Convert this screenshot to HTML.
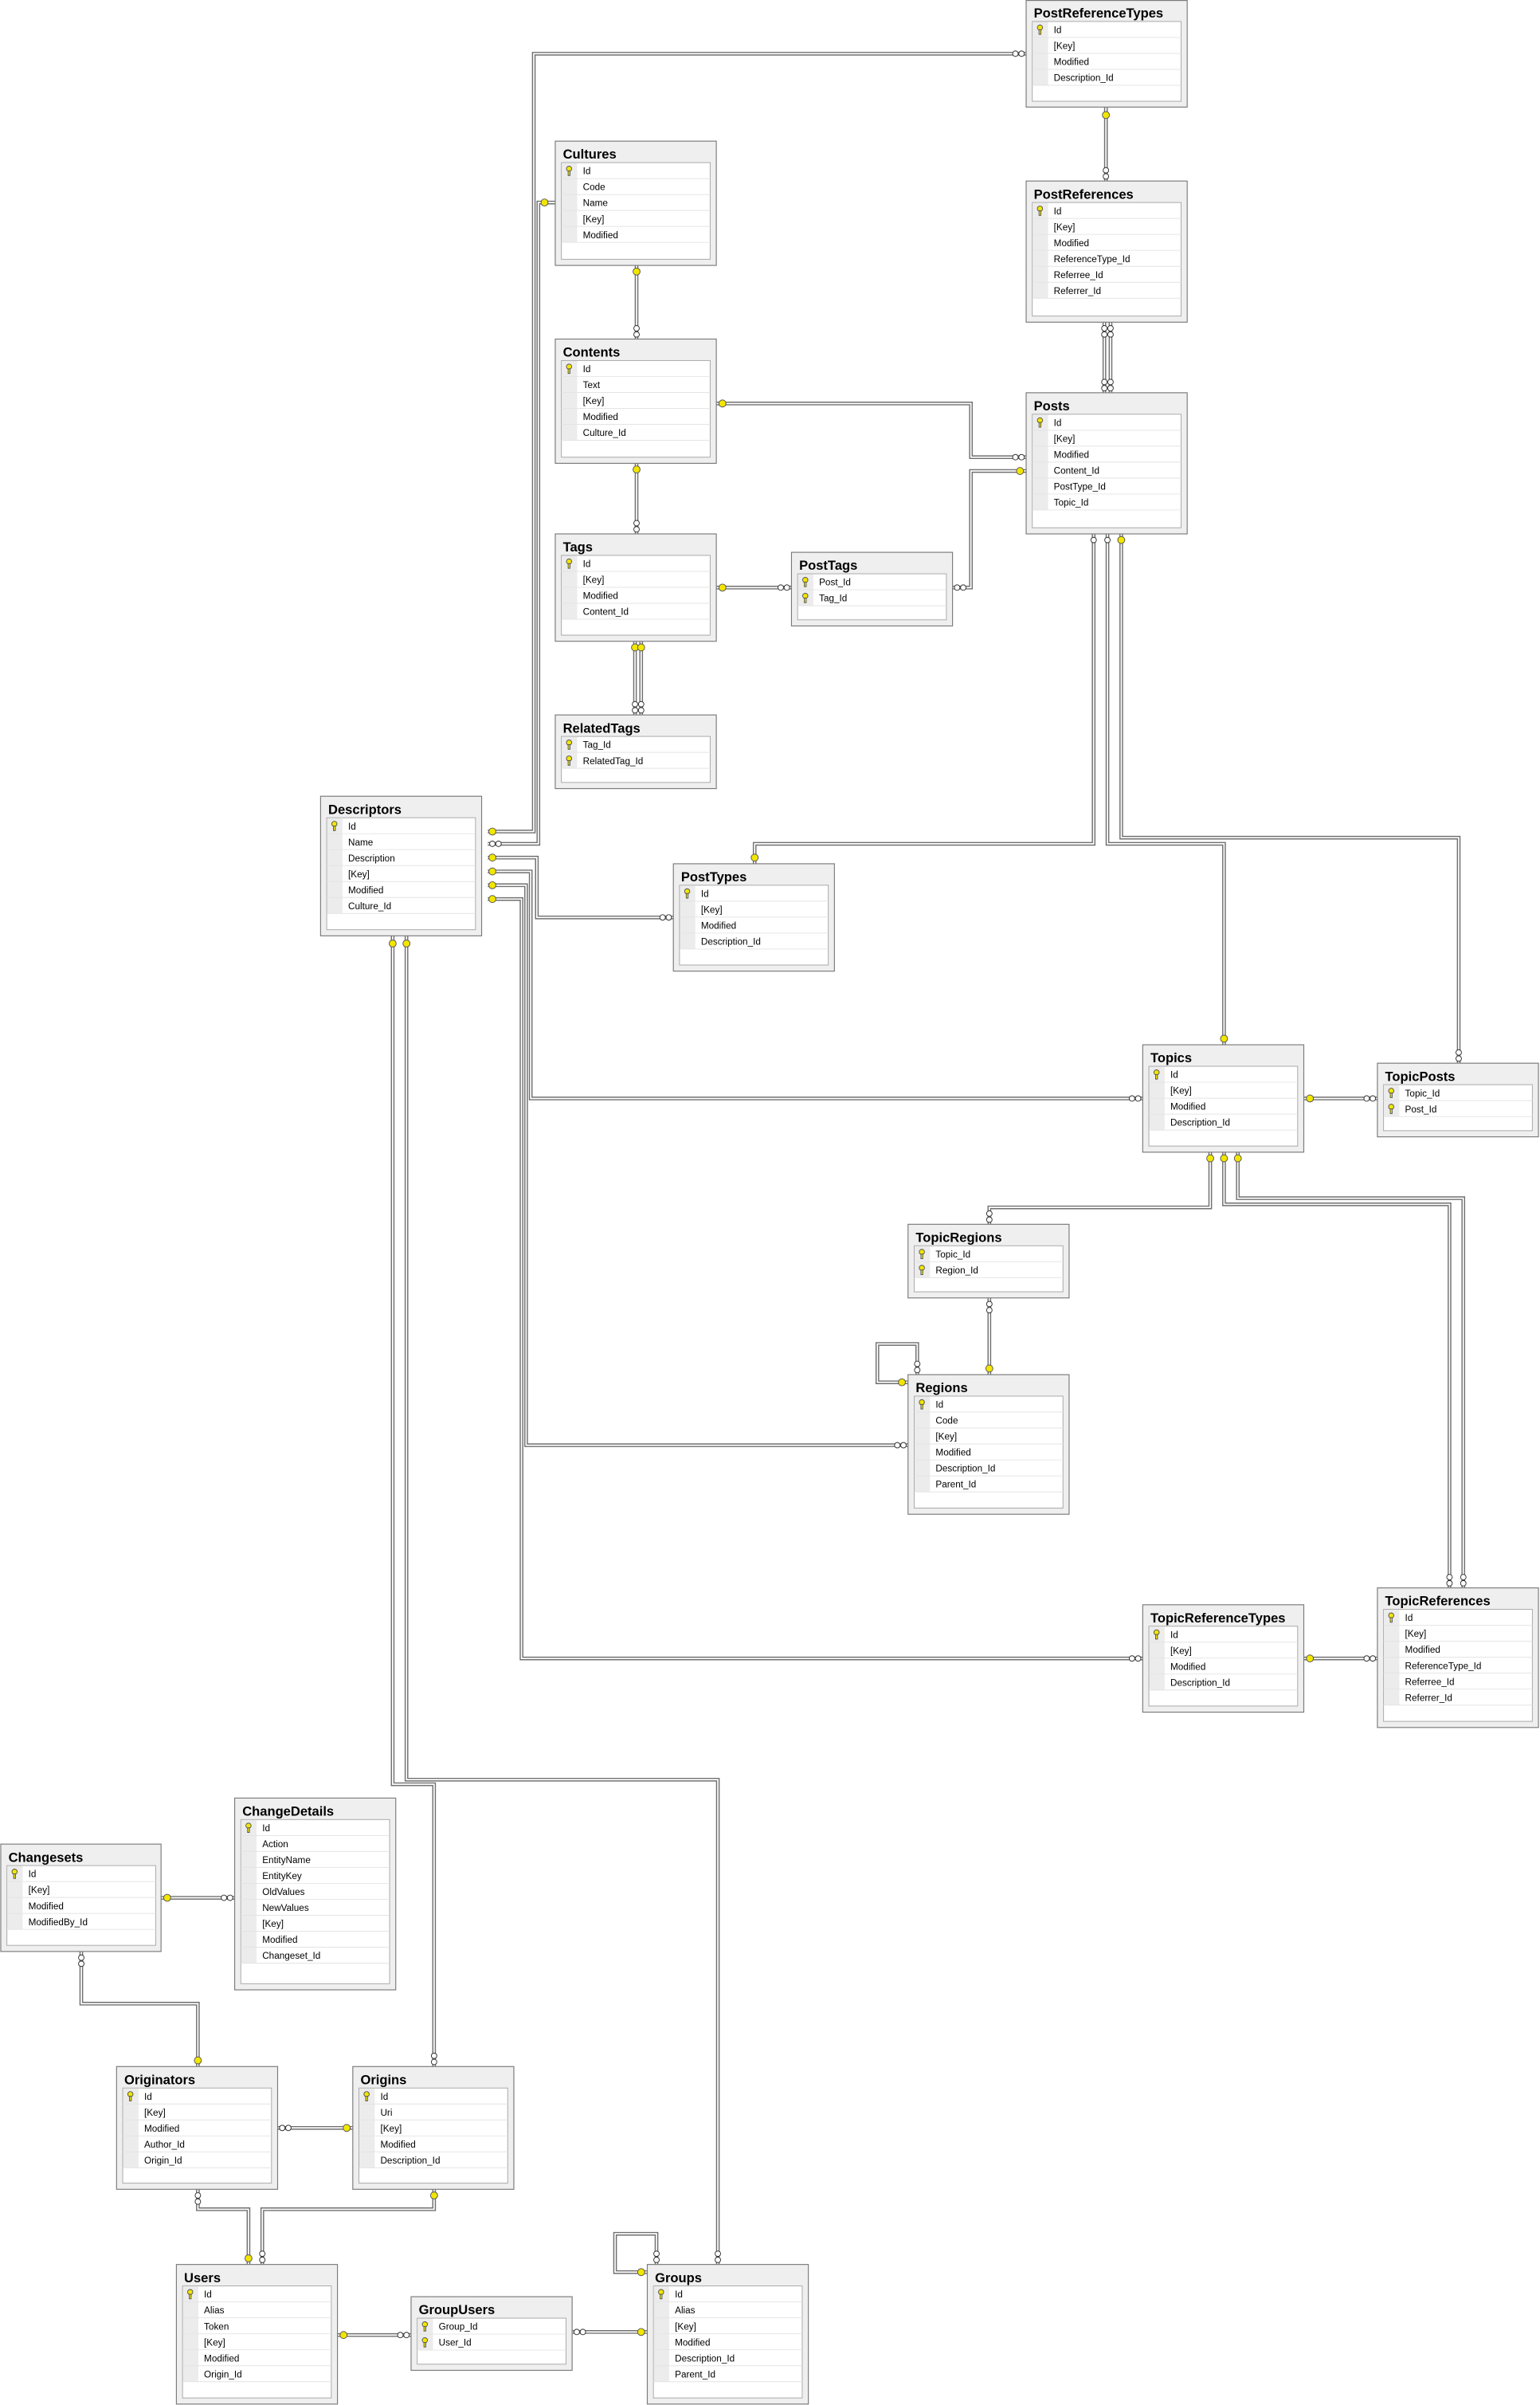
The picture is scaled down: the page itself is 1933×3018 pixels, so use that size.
<!DOCTYPE html>
<html><head><meta charset="utf-8"><style>
html,body{margin:0;padding:0;background:#fff;}
svg{display:block;}
.t{font-family:"Liberation Sans",sans-serif;font-weight:bold;font-size:8.6px;fill:#000;}
.r{font-family:"Liberation Sans",sans-serif;font-size:6.1px;fill:#000;}
.o{fill:#efefef;stroke:#7a7a7a;stroke-width:0.6;}
.i{fill:#fff;stroke:#a8a8a8;stroke-width:0.5;}
.s{fill:#ececec;}
.l{stroke:#e4e4e4;stroke-width:0.5;}
.c1{fill:none;stroke:#707070;stroke-width:2.4;}
.c2{fill:none;stroke:#fff;stroke-width:0.9;}
.k{fill:#f2e600;stroke:#555;stroke-width:0.5;}
.n{fill:#fff;stroke:#333;stroke-width:0.5;}
</style></head><body>
<svg width="1933" height="3018" viewBox="0 0 1004 1567.6" preserveAspectRatio="none" xmlns="http://www.w3.org/2000/svg">
<defs>
<g id="key"><circle cx="0" cy="0" r="1.7" class="k"/><rect x="-0.6" y="1.4" width="1.2" height="3" class="k"/></g>
</defs>

<!-- connectors -->
<g id="conns">
<polyline class="c1" points="318,542 348,542 348,35 669,35"/>
<polyline class="c1" points="318,550 351,550 351,132 362,132"/>
<polyline class="c1" points="415,173 415,221"/>
<polyline class="c1" points="467,263 633,263 633,298 669,298"/>
<polyline class="c1" points="621,383 633,383 633,307 669,307"/>
<polyline class="c1" points="415,302 415,348"/>
<polyline class="c1" points="467,383 516,383"/>
<polyline class="c1" points="414,418 414,466"/>
<polyline class="c1" points="418,418 418,466"/>
<polyline class="c1" points="721,70 721,118"/>
<polyline class="c1" points="720,210 720,256"/>
<polyline class="c1" points="724,210 724,256"/>
<polyline class="c1" points="713,348 713,550 492,550 492,563"/>
<polyline class="c1" points="722,348 722,550 798,550 798,681"/>
<polyline class="c1" points="731,348 731,546 951,546 951,693"/>
<polyline class="c1" points="318,559 350,559 350,598 439,598"/>
<polyline class="c1" points="318,568 346,568 346,716 745,716"/>
<polyline class="c1" points="318,577 343,577 343,942 592,942"/>
<polyline class="c1" points="318,586 340,586 340,1081 745,1081"/>
<polyline class="c1" points="898,716 850,716"/>
<polyline class="c1" points="789,751 789,787 645,787 645,798"/>
<polyline class="c1" points="798,751 798,785 945,785 945,1035"/>
<polyline class="c1" points="807,751 807,781 954,781 954,1035"/>
<polyline class="c1" points="645,846 645,896"/>
<polyline class="c1" points="598,896 598,876 572,876 572,901 592,901"/>
<polyline class="c1" points="898,1081 850,1081"/>
<polyline class="c1" points="256,610 256,1163 283,1163 283,1347"/>
<polyline class="c1" points="265,610 265,1160 468,1160 468,1476"/>
<polyline class="c1" points="153,1237 105,1237"/>
<polyline class="c1" points="53,1272 53,1306 129,1306 129,1347"/>
<polyline class="c1" points="181,1387 230,1387"/>
<polyline class="c1" points="129,1427 129,1440 162,1440 162,1476"/>
<polyline class="c1" points="283,1427 283,1440 171,1440 171,1476"/>
<polyline class="c1" points="268,1522 220,1522"/>
<polyline class="c1" points="373,1520 422,1520"/>
<polyline class="c1" points="428,1476 428,1456 401,1456 401,1481 422,1481"/>
</g>
<g>
<polyline class="c2" points="318,542 348,542 348,35 669,35"/>
<polyline class="c2" points="318,550 351,550 351,132 362,132"/>
<polyline class="c2" points="415,173 415,221"/>
<polyline class="c2" points="467,263 633,263 633,298 669,298"/>
<polyline class="c2" points="621,383 633,383 633,307 669,307"/>
<polyline class="c2" points="415,302 415,348"/>
<polyline class="c2" points="467,383 516,383"/>
<polyline class="c2" points="414,418 414,466"/>
<polyline class="c2" points="418,418 418,466"/>
<polyline class="c2" points="721,70 721,118"/>
<polyline class="c2" points="720,210 720,256"/>
<polyline class="c2" points="724,210 724,256"/>
<polyline class="c2" points="713,348 713,550 492,550 492,563"/>
<polyline class="c2" points="722,348 722,550 798,550 798,681"/>
<polyline class="c2" points="731,348 731,546 951,546 951,693"/>
<polyline class="c2" points="318,559 350,559 350,598 439,598"/>
<polyline class="c2" points="318,568 346,568 346,716 745,716"/>
<polyline class="c2" points="318,577 343,577 343,942 592,942"/>
<polyline class="c2" points="318,586 340,586 340,1081 745,1081"/>
<polyline class="c2" points="898,716 850,716"/>
<polyline class="c2" points="789,751 789,787 645,787 645,798"/>
<polyline class="c2" points="798,751 798,785 945,785 945,1035"/>
<polyline class="c2" points="807,751 807,781 954,781 954,1035"/>
<polyline class="c2" points="645,846 645,896"/>
<polyline class="c2" points="598,896 598,876 572,876 572,901 592,901"/>
<polyline class="c2" points="898,1081 850,1081"/>
<polyline class="c2" points="256,610 256,1163 283,1163 283,1347"/>
<polyline class="c2" points="265,610 265,1160 468,1160 468,1476"/>
<polyline class="c2" points="153,1237 105,1237"/>
<polyline class="c2" points="53,1272 53,1306 129,1306 129,1347"/>
<polyline class="c2" points="181,1387 230,1387"/>
<polyline class="c2" points="129,1427 129,1440 162,1440 162,1476"/>
<polyline class="c2" points="283,1427 283,1440 171,1440 171,1476"/>
<polyline class="c2" points="268,1522 220,1522"/>
<polyline class="c2" points="373,1520 422,1520"/>
<polyline class="c2" points="428,1476 428,1456 401,1456 401,1481 422,1481"/>
</g>

<!-- endpoint markers: keys -->
<g>
<circle class="k" cx="321" cy="542" r="2.3"/><circle class="k" cx="355" cy="132" r="2.3"/>
<circle class="k" cx="415" cy="177" r="2.3"/><circle class="k" cx="471" cy="263" r="2.3"/>
<circle class="k" cx="665" cy="307" r="2.3"/><circle class="k" cx="415" cy="306" r="2.3"/>
<circle class="k" cx="471" cy="383" r="2.3"/><circle class="k" cx="414" cy="422" r="2.3"/><circle class="k" cx="418" cy="422" r="2.3"/>
<circle class="k" cx="721" cy="75" r="2.3"/><circle class="k" cx="492" cy="559" r="2.3"/>
<circle class="k" cx="798" cy="677" r="2.3"/><circle class="k" cx="731" cy="352" r="2.3"/>
<circle class="k" cx="321" cy="559" r="2.3"/><circle class="k" cx="321" cy="568" r="2.3"/>
<circle class="k" cx="321" cy="577" r="2.3"/><circle class="k" cx="321" cy="586" r="2.3"/>
<circle class="k" cx="854" cy="716" r="2.3"/><circle class="k" cx="789" cy="755" r="2.3"/>
<circle class="k" cx="798" cy="755" r="2.3"/><circle class="k" cx="807" cy="755" r="2.3"/>
<circle class="k" cx="645" cy="892" r="2.3"/><circle class="k" cx="588" cy="901" r="2.3"/>
<circle class="k" cx="854" cy="1081" r="2.3"/><circle class="k" cx="256" cy="615" r="2.3"/><circle class="k" cx="265" cy="615" r="2.3"/>
<circle class="k" cx="109" cy="1237" r="2.3"/><circle class="k" cx="129" cy="1343" r="2.3"/>
<circle class="k" cx="226" cy="1387" r="2.3"/><circle class="k" cx="162" cy="1472" r="2.3"/>
<circle class="k" cx="283" cy="1431" r="2.3"/><circle class="k" cx="224" cy="1522" r="2.3"/>
<circle class="k" cx="418" cy="1520" r="2.3"/><circle class="k" cx="418" cy="1481" r="2.3"/>
</g>
<!-- endpoint markers: infinity -->
<g>
<circle class="n" cx="662" cy="35" r="1.8"/><circle class="n" cx="666" cy="35" r="1.8"/>
<circle class="n" cx="321" cy="550" r="1.8"/><circle class="n" cx="325" cy="550" r="1.8"/>
<circle class="n" cx="415" cy="214" r="1.8"/><circle class="n" cx="415" cy="218" r="1.8"/>
<circle class="n" cx="662" cy="298" r="1.8"/><circle class="n" cx="666" cy="298" r="1.8"/>
<circle class="n" cx="624" cy="383" r="1.8"/><circle class="n" cx="628" cy="383" r="1.8"/>
<circle class="n" cx="415" cy="341" r="1.8"/><circle class="n" cx="415" cy="345" r="1.8"/>
<circle class="n" cx="509" cy="383" r="1.8"/><circle class="n" cx="513" cy="383" r="1.8"/>
<circle class="n" cx="414" cy="459" r="1.8"/><circle class="n" cx="414" cy="463" r="1.8"/>
<circle class="n" cx="418" cy="459" r="1.8"/><circle class="n" cx="418" cy="463" r="1.8"/>
<circle class="n" cx="721" cy="111" r="1.8"/><circle class="n" cx="721" cy="115" r="1.8"/>
<circle class="n" cx="720" cy="214" r="1.8"/><circle class="n" cx="720" cy="218" r="1.8"/>
<circle class="n" cx="724" cy="214" r="1.8"/><circle class="n" cx="724" cy="218" r="1.8"/>
<circle class="n" cx="720" cy="249" r="1.8"/><circle class="n" cx="720" cy="253" r="1.8"/>
<circle class="n" cx="724" cy="249" r="1.8"/><circle class="n" cx="724" cy="253" r="1.8"/>
<circle class="n" cx="713" cy="352" r="1.8"/><circle class="n" cx="722" cy="352" r="1.8"/>
<circle class="n" cx="432" cy="598" r="1.8"/><circle class="n" cx="436" cy="598" r="1.8"/>
<circle class="n" cx="738" cy="716" r="1.8"/><circle class="n" cx="742" cy="716" r="1.8"/>
<circle class="n" cx="585" cy="942" r="1.8"/><circle class="n" cx="589" cy="942" r="1.8"/>
<circle class="n" cx="738" cy="1081" r="1.8"/><circle class="n" cx="742" cy="1081" r="1.8"/>
<circle class="n" cx="891" cy="716" r="1.8"/><circle class="n" cx="895" cy="716" r="1.8"/>
<circle class="n" cx="951" cy="686" r="1.8"/><circle class="n" cx="951" cy="690" r="1.8"/>
<circle class="n" cx="645" cy="791" r="1.8"/><circle class="n" cx="645" cy="795" r="1.8"/>
<circle class="n" cx="645" cy="850" r="1.8"/><circle class="n" cx="645" cy="854" r="1.8"/>
<circle class="n" cx="598" cy="889" r="1.8"/><circle class="n" cx="598" cy="893" r="1.8"/>
<circle class="n" cx="945" cy="1028" r="1.8"/><circle class="n" cx="945" cy="1032" r="1.8"/>
<circle class="n" cx="954" cy="1028" r="1.8"/><circle class="n" cx="954" cy="1032" r="1.8"/>
<circle class="n" cx="891" cy="1081" r="1.8"/><circle class="n" cx="895" cy="1081" r="1.8"/>
<circle class="n" cx="283" cy="1340" r="1.8"/><circle class="n" cx="283" cy="1344" r="1.8"/>
<circle class="n" cx="468" cy="1469" r="1.8"/><circle class="n" cx="468" cy="1473" r="1.8"/>
<circle class="n" cx="146" cy="1237" r="1.8"/><circle class="n" cx="150" cy="1237" r="1.8"/>
<circle class="n" cx="53" cy="1276" r="1.8"/><circle class="n" cx="53" cy="1280" r="1.8"/>
<circle class="n" cx="184" cy="1387" r="1.8"/><circle class="n" cx="188" cy="1387" r="1.8"/>
<circle class="n" cx="129" cy="1431" r="1.8"/><circle class="n" cx="129" cy="1435" r="1.8"/>
<circle class="n" cx="171" cy="1469" r="1.8"/><circle class="n" cx="171" cy="1473" r="1.8"/>
<circle class="n" cx="261" cy="1522" r="1.8"/><circle class="n" cx="265" cy="1522" r="1.8"/>
<circle class="n" cx="376" cy="1520" r="1.8"/><circle class="n" cx="380" cy="1520" r="1.8"/>
<circle class="n" cx="428" cy="1469" r="1.8"/><circle class="n" cx="428" cy="1473" r="1.8"/>
</g>

<!-- TABLES -->
<!-- PostReferenceTypes 669,0 h70 -->
<g transform="translate(669,0)">
<rect class="o" x="0" y="0.3" width="105" height="69.5"/><text class="t" x="5" y="11.5">PostReferenceTypes</text>
<rect class="i" x="4" y="14" width="97" height="52"/><rect class="s" x="4.3" y="14.3" width="10" height="41.3"/>
<line class="l" x1="4" x2="101" y1="24.4" y2="24.4"/><line class="l" x1="4" x2="101" y1="34.8" y2="34.8"/><line class="l" x1="4" x2="101" y1="45.2" y2="45.2"/><line class="l" x1="4" x2="101" y1="55.6" y2="55.6"/>
<use href="#key" x="9" y="18"/>
<text class="r" x="18" y="21.6">Id</text><text class="r" x="18" y="32">[Key]</text><text class="r" x="18" y="42.4">Modified</text><text class="r" x="18" y="52.8">Description_Id</text>
</g>
<!-- Cultures 362,92 h81 -->
<g transform="translate(362,92)">
<rect class="o" x="0" y="0" width="105" height="81"/><text class="t" x="5" y="11.5">Cultures</text>
<rect class="i" x="4" y="14" width="97" height="63"/><rect class="s" x="4.3" y="14.3" width="10" height="51.7"/>
<line class="l" x1="4" x2="101" y1="24.4" y2="24.4"/><line class="l" x1="4" x2="101" y1="34.8" y2="34.8"/><line class="l" x1="4" x2="101" y1="45.2" y2="45.2"/><line class="l" x1="4" x2="101" y1="55.6" y2="55.6"/><line class="l" x1="4" x2="101" y1="66" y2="66"/>
<use href="#key" x="9" y="18"/>
<text class="r" x="18" y="21.6">Id</text><text class="r" x="18" y="32">Code</text><text class="r" x="18" y="42.4">Name</text><text class="r" x="18" y="52.8">[Key]</text><text class="r" x="18" y="63.2">Modified</text>
</g>
<!-- PostReferences 669,118 h92 -->
<g transform="translate(669,118)">
<rect class="o" x="0" y="0" width="105" height="92"/><text class="t" x="5" y="11.5">PostReferences</text>
<rect class="i" x="4" y="14" width="97" height="74"/><rect class="s" x="4.3" y="14.3" width="10" height="62.1"/>
<line class="l" x1="4" x2="101" y1="24.4" y2="24.4"/><line class="l" x1="4" x2="101" y1="34.8" y2="34.8"/><line class="l" x1="4" x2="101" y1="45.2" y2="45.2"/><line class="l" x1="4" x2="101" y1="55.6" y2="55.6"/><line class="l" x1="4" x2="101" y1="66" y2="66"/><line class="l" x1="4" x2="101" y1="76.4" y2="76.4"/>
<use href="#key" x="9" y="18"/>
<text class="r" x="18" y="21.6">Id</text><text class="r" x="18" y="32">[Key]</text><text class="r" x="18" y="42.4">Modified</text><text class="r" x="18" y="52.8">ReferenceType_Id</text><text class="r" x="18" y="63.2">Referree_Id</text><text class="r" x="18" y="73.6">Referrer_Id</text>
</g>
<!-- Contents 362,221 h81 -->
<g transform="translate(362,221)">
<rect class="o" x="0" y="0" width="105" height="81"/><text class="t" x="5" y="11.5">Contents</text>
<rect class="i" x="4" y="14" width="97" height="63"/><rect class="s" x="4.3" y="14.3" width="10" height="51.7"/>
<line class="l" x1="4" x2="101" y1="24.4" y2="24.4"/><line class="l" x1="4" x2="101" y1="34.8" y2="34.8"/><line class="l" x1="4" x2="101" y1="45.2" y2="45.2"/><line class="l" x1="4" x2="101" y1="55.6" y2="55.6"/><line class="l" x1="4" x2="101" y1="66" y2="66"/>
<use href="#key" x="9" y="18"/>
<text class="r" x="18" y="21.6">Id</text><text class="r" x="18" y="32">Text</text><text class="r" x="18" y="42.4">[Key]</text><text class="r" x="18" y="52.8">Modified</text><text class="r" x="18" y="63.2">Culture_Id</text>
</g>
<!-- Posts 669,256 h92 -->
<g transform="translate(669,256)">
<rect class="o" x="0" y="0" width="105" height="92"/><text class="t" x="5" y="11.5">Posts</text>
<rect class="i" x="4" y="14" width="97" height="74"/><rect class="s" x="4.3" y="14.3" width="10" height="62.1"/>
<line class="l" x1="4" x2="101" y1="24.4" y2="24.4"/><line class="l" x1="4" x2="101" y1="34.8" y2="34.8"/><line class="l" x1="4" x2="101" y1="45.2" y2="45.2"/><line class="l" x1="4" x2="101" y1="55.6" y2="55.6"/><line class="l" x1="4" x2="101" y1="66" y2="66"/><line class="l" x1="4" x2="101" y1="76.4" y2="76.4"/>
<use href="#key" x="9" y="18"/>
<text class="r" x="18" y="21.6">Id</text><text class="r" x="18" y="32">[Key]</text><text class="r" x="18" y="42.4">Modified</text><text class="r" x="18" y="52.8">Content_Id</text><text class="r" x="18" y="63.2">PostType_Id</text><text class="r" x="18" y="73.6">Topic_Id</text>
</g>
<!-- Tags 362,348 h70 -->
<g transform="translate(362,348)">
<rect class="o" x="0" y="0" width="105" height="70"/><text class="t" x="5" y="11.5">Tags</text>
<rect class="i" x="4" y="14" width="97" height="52"/><rect class="s" x="4.3" y="14.3" width="10" height="41.3"/>
<line class="l" x1="4" x2="101" y1="24.4" y2="24.4"/><line class="l" x1="4" x2="101" y1="34.8" y2="34.8"/><line class="l" x1="4" x2="101" y1="45.2" y2="45.2"/><line class="l" x1="4" x2="101" y1="55.6" y2="55.6"/>
<use href="#key" x="9" y="18"/>
<text class="r" x="18" y="21.6">Id</text><text class="r" x="18" y="32">[Key]</text><text class="r" x="18" y="42.4">Modified</text><text class="r" x="18" y="52.8">Content_Id</text>
</g>
<!-- PostTags 516,360 h48 -->
<g transform="translate(516,360)">
<rect class="o" x="0" y="0" width="105" height="48"/><text class="t" x="5" y="11.5">PostTags</text>
<rect class="i" x="4" y="14" width="97" height="30"/><rect class="s" x="4.3" y="14.3" width="10" height="20.5"/>
<line class="l" x1="4" x2="101" y1="24.4" y2="24.4"/><line class="l" x1="4" x2="101" y1="34.8" y2="34.8"/>
<use href="#key" x="9" y="18"/><use href="#key" x="9" y="28.4"/>
<text class="r" x="18" y="21.6">Post_Id</text><text class="r" x="18" y="32">Tag_Id</text>
</g>
<!-- RelatedTags 362,466 h48 -->
<g transform="translate(362,466)">
<rect class="o" x="0" y="0" width="105" height="48"/><text class="t" x="5" y="11.5">RelatedTags</text>
<rect class="i" x="4" y="14" width="97" height="30"/><rect class="s" x="4.3" y="14.3" width="10" height="20.5"/>
<line class="l" x1="4" x2="101" y1="24.4" y2="24.4"/><line class="l" x1="4" x2="101" y1="34.8" y2="34.8"/>
<use href="#key" x="9" y="18"/><use href="#key" x="9" y="28.4"/>
<text class="r" x="18" y="21.6">Tag_Id</text><text class="r" x="18" y="32">RelatedTag_Id</text>
</g>
<!-- Descriptors 209,519 h91 -->
<g transform="translate(209,519)">
<rect class="o" x="0" y="0" width="105" height="91"/><text class="t" x="5" y="11.5">Descriptors</text>
<rect class="i" x="4" y="14" width="97" height="73"/><rect class="s" x="4.3" y="14.3" width="10" height="62.1"/>
<line class="l" x1="4" x2="101" y1="24.4" y2="24.4"/><line class="l" x1="4" x2="101" y1="34.8" y2="34.8"/><line class="l" x1="4" x2="101" y1="45.2" y2="45.2"/><line class="l" x1="4" x2="101" y1="55.6" y2="55.6"/><line class="l" x1="4" x2="101" y1="66" y2="66"/><line class="l" x1="4" x2="101" y1="76.4" y2="76.4"/>
<use href="#key" x="9" y="18"/>
<text class="r" x="18" y="21.6">Id</text><text class="r" x="18" y="32">Name</text><text class="r" x="18" y="42.4">Description</text><text class="r" x="18" y="52.8">[Key]</text><text class="r" x="18" y="63.2">Modified</text><text class="r" x="18" y="73.6">Culture_Id</text>
</g>
<!-- PostTypes 439,563 h70 -->
<g transform="translate(439,563)">
<rect class="o" x="0" y="0" width="105" height="70"/><text class="t" x="5" y="11.5">PostTypes</text>
<rect class="i" x="4" y="14" width="97" height="52"/><rect class="s" x="4.3" y="14.3" width="10" height="41.3"/>
<line class="l" x1="4" x2="101" y1="24.4" y2="24.4"/><line class="l" x1="4" x2="101" y1="34.8" y2="34.8"/><line class="l" x1="4" x2="101" y1="45.2" y2="45.2"/><line class="l" x1="4" x2="101" y1="55.6" y2="55.6"/>
<use href="#key" x="9" y="18"/>
<text class="r" x="18" y="21.6">Id</text><text class="r" x="18" y="32">[Key]</text><text class="r" x="18" y="42.4">Modified</text><text class="r" x="18" y="52.8">Description_Id</text>
</g>
<!-- Topics 745,681 h70 -->
<g transform="translate(745,681)">
<rect class="o" x="0" y="0" width="105" height="70"/><text class="t" x="5" y="11.5">Topics</text>
<rect class="i" x="4" y="14" width="97" height="52"/><rect class="s" x="4.3" y="14.3" width="10" height="41.3"/>
<line class="l" x1="4" x2="101" y1="24.4" y2="24.4"/><line class="l" x1="4" x2="101" y1="34.8" y2="34.8"/><line class="l" x1="4" x2="101" y1="45.2" y2="45.2"/><line class="l" x1="4" x2="101" y1="55.6" y2="55.6"/>
<use href="#key" x="9" y="18"/>
<text class="r" x="18" y="21.6">Id</text><text class="r" x="18" y="32">[Key]</text><text class="r" x="18" y="42.4">Modified</text><text class="r" x="18" y="52.8">Description_Id</text>
</g>
<!-- TopicPosts 898,693 h48 -->
<g transform="translate(898,693)">
<rect class="o" x="0" y="0" width="105" height="48"/><text class="t" x="5" y="11.5">TopicPosts</text>
<rect class="i" x="4" y="14" width="97" height="30"/><rect class="s" x="4.3" y="14.3" width="10" height="20.5"/>
<line class="l" x1="4" x2="101" y1="24.4" y2="24.4"/><line class="l" x1="4" x2="101" y1="34.8" y2="34.8"/>
<use href="#key" x="9" y="18"/><use href="#key" x="9" y="28.4"/>
<text class="r" x="18" y="21.6">Topic_Id</text><text class="r" x="18" y="32">Post_Id</text>
</g>
<!-- TopicRegions 592,798 h48 -->
<g transform="translate(592,798)">
<rect class="o" x="0" y="0" width="105" height="48"/><text class="t" x="5" y="11.5">TopicRegions</text>
<rect class="i" x="4" y="14" width="97" height="30"/><rect class="s" x="4.3" y="14.3" width="10" height="20.5"/>
<line class="l" x1="4" x2="101" y1="24.4" y2="24.4"/><line class="l" x1="4" x2="101" y1="34.8" y2="34.8"/>
<use href="#key" x="9" y="18"/><use href="#key" x="9" y="28.4"/>
<text class="r" x="18" y="21.6">Topic_Id</text><text class="r" x="18" y="32">Region_Id</text>
</g>
<!-- Regions 592,896 h91 -->
<g transform="translate(592,896)">
<rect class="o" x="0" y="0" width="105" height="91"/><text class="t" x="5" y="11.5">Regions</text>
<rect class="i" x="4" y="14" width="97" height="73"/><rect class="s" x="4.3" y="14.3" width="10" height="62.1"/>
<line class="l" x1="4" x2="101" y1="24.4" y2="24.4"/><line class="l" x1="4" x2="101" y1="34.8" y2="34.8"/><line class="l" x1="4" x2="101" y1="45.2" y2="45.2"/><line class="l" x1="4" x2="101" y1="55.6" y2="55.6"/><line class="l" x1="4" x2="101" y1="66" y2="66"/><line class="l" x1="4" x2="101" y1="76.4" y2="76.4"/>
<use href="#key" x="9" y="18"/>
<text class="r" x="18" y="21.6">Id</text><text class="r" x="18" y="32">Code</text><text class="r" x="18" y="42.4">[Key]</text><text class="r" x="18" y="52.8">Modified</text><text class="r" x="18" y="63.2">Description_Id</text><text class="r" x="18" y="73.6">Parent_Id</text>
</g>
<!-- TopicReferenceTypes 745,1046 h70 -->
<g transform="translate(745,1046)">
<rect class="o" x="0" y="0" width="105" height="70"/><text class="t" x="5" y="11.5">TopicReferenceTypes</text>
<rect class="i" x="4" y="14" width="97" height="52"/><rect class="s" x="4.3" y="14.3" width="10" height="41.3"/>
<line class="l" x1="4" x2="101" y1="24.4" y2="24.4"/><line class="l" x1="4" x2="101" y1="34.8" y2="34.8"/><line class="l" x1="4" x2="101" y1="45.2" y2="45.2"/><line class="l" x1="4" x2="101" y1="55.6" y2="55.6"/>
<use href="#key" x="9" y="18"/>
<text class="r" x="18" y="21.6">Id</text><text class="r" x="18" y="32">[Key]</text><text class="r" x="18" y="42.4">Modified</text><text class="r" x="18" y="52.8">Description_Id</text>
</g>
<!-- TopicReferences 898,1035 h91 -->
<g transform="translate(898,1035)">
<rect class="o" x="0" y="0" width="105" height="91"/><text class="t" x="5" y="11.5">TopicReferences</text>
<rect class="i" x="4" y="14" width="97" height="73"/><rect class="s" x="4.3" y="14.3" width="10" height="62.1"/>
<line class="l" x1="4" x2="101" y1="24.4" y2="24.4"/><line class="l" x1="4" x2="101" y1="34.8" y2="34.8"/><line class="l" x1="4" x2="101" y1="45.2" y2="45.2"/><line class="l" x1="4" x2="101" y1="55.6" y2="55.6"/><line class="l" x1="4" x2="101" y1="66" y2="66"/><line class="l" x1="4" x2="101" y1="76.4" y2="76.4"/>
<use href="#key" x="9" y="18"/>
<text class="r" x="18" y="21.6">Id</text><text class="r" x="18" y="32">[Key]</text><text class="r" x="18" y="42.4">Modified</text><text class="r" x="18" y="52.8">ReferenceType_Id</text><text class="r" x="18" y="63.2">Referree_Id</text><text class="r" x="18" y="73.6">Referrer_Id</text>
</g>
<!-- ChangeDetails 153,1172 h125 -->
<g transform="translate(153,1172)">
<rect class="o" x="0" y="0" width="105" height="125"/><text class="t" x="5" y="11.5">ChangeDetails</text>
<rect class="i" x="4" y="14" width="97" height="107"/><rect class="s" x="4.3" y="14.3" width="10" height="93.3"/>
<line class="l" x1="4" x2="101" y1="24.4" y2="24.4"/><line class="l" x1="4" x2="101" y1="34.8" y2="34.8"/><line class="l" x1="4" x2="101" y1="45.2" y2="45.2"/><line class="l" x1="4" x2="101" y1="55.6" y2="55.6"/><line class="l" x1="4" x2="101" y1="66" y2="66"/><line class="l" x1="4" x2="101" y1="76.4" y2="76.4"/><line class="l" x1="4" x2="101" y1="86.8" y2="86.8"/><line class="l" x1="4" x2="101" y1="97.2" y2="97.2"/><line class="l" x1="4" x2="101" y1="107.6" y2="107.6"/>
<use href="#key" x="9" y="18"/>
<text class="r" x="18" y="21.6">Id</text><text class="r" x="18" y="32">Action</text><text class="r" x="18" y="42.4">EntityName</text><text class="r" x="18" y="52.8">EntityKey</text><text class="r" x="18" y="63.2">OldValues</text><text class="r" x="18" y="73.6">NewValues</text><text class="r" x="18" y="84">[Key]</text><text class="r" x="18" y="94.4">Modified</text><text class="r" x="18" y="104.8">Changeset_Id</text>
</g>
<!-- Changesets 0,1202 h70 -->
<g transform="translate(0.5,1202)">
<rect class="o" x="0" y="0" width="104.5" height="70"/><text class="t" x="5" y="11.5">Changesets</text>
<rect class="i" x="4" y="14" width="97" height="52"/><rect class="s" x="4.3" y="14.3" width="10" height="41.3"/>
<line class="l" x1="4" x2="101" y1="24.4" y2="24.4"/><line class="l" x1="4" x2="101" y1="34.8" y2="34.8"/><line class="l" x1="4" x2="101" y1="45.2" y2="45.2"/><line class="l" x1="4" x2="101" y1="55.6" y2="55.6"/>
<use href="#key" x="9" y="18"/>
<text class="r" x="18" y="21.6">Id</text><text class="r" x="18" y="32">[Key]</text><text class="r" x="18" y="42.4">Modified</text><text class="r" x="18" y="52.8">ModifiedBy_Id</text>
</g>
<!-- Originators 76,1347 h80 -->
<g transform="translate(76,1347)">
<rect class="o" x="0" y="0" width="105" height="80"/><text class="t" x="5" y="11.5">Originators</text>
<rect class="i" x="4" y="14" width="97" height="62"/><rect class="s" x="4.3" y="14.3" width="10" height="51.7"/>
<line class="l" x1="4" x2="101" y1="24.4" y2="24.4"/><line class="l" x1="4" x2="101" y1="34.8" y2="34.8"/><line class="l" x1="4" x2="101" y1="45.2" y2="45.2"/><line class="l" x1="4" x2="101" y1="55.6" y2="55.6"/><line class="l" x1="4" x2="101" y1="66" y2="66"/>
<use href="#key" x="9" y="18"/>
<text class="r" x="18" y="21.6">Id</text><text class="r" x="18" y="32">[Key]</text><text class="r" x="18" y="42.4">Modified</text><text class="r" x="18" y="52.8">Author_Id</text><text class="r" x="18" y="63.2">Origin_Id</text>
</g>
<!-- Origins 230,1347 h80 -->
<g transform="translate(230,1347)">
<rect class="o" x="0" y="0" width="105" height="80"/><text class="t" x="5" y="11.5">Origins</text>
<rect class="i" x="4" y="14" width="97" height="62"/><rect class="s" x="4.3" y="14.3" width="10" height="51.7"/>
<line class="l" x1="4" x2="101" y1="24.4" y2="24.4"/><line class="l" x1="4" x2="101" y1="34.8" y2="34.8"/><line class="l" x1="4" x2="101" y1="45.2" y2="45.2"/><line class="l" x1="4" x2="101" y1="55.6" y2="55.6"/><line class="l" x1="4" x2="101" y1="66" y2="66"/>
<use href="#key" x="9" y="18"/>
<text class="r" x="18" y="21.6">Id</text><text class="r" x="18" y="32">Uri</text><text class="r" x="18" y="42.4">[Key]</text><text class="r" x="18" y="52.8">Modified</text><text class="r" x="18" y="63.2">Description_Id</text>
</g>
<!-- Users 115,1476 h91 -->
<g transform="translate(115,1476)">
<rect class="o" x="0" y="0" width="105" height="91"/><text class="t" x="5" y="11.5">Users</text>
<rect class="i" x="4" y="14" width="97" height="73"/><rect class="s" x="4.3" y="14.3" width="10" height="62.1"/>
<line class="l" x1="4" x2="101" y1="24.4" y2="24.4"/><line class="l" x1="4" x2="101" y1="34.8" y2="34.8"/><line class="l" x1="4" x2="101" y1="45.2" y2="45.2"/><line class="l" x1="4" x2="101" y1="55.6" y2="55.6"/><line class="l" x1="4" x2="101" y1="66" y2="66"/><line class="l" x1="4" x2="101" y1="76.4" y2="76.4"/>
<use href="#key" x="9" y="18"/>
<text class="r" x="18" y="21.6">Id</text><text class="r" x="18" y="32">Alias</text><text class="r" x="18" y="42.4">Token</text><text class="r" x="18" y="52.8">[Key]</text><text class="r" x="18" y="63.2">Modified</text><text class="r" x="18" y="73.6">Origin_Id</text>
</g>
<!-- GroupUsers 268,1497 h48 -->
<g transform="translate(268,1497)">
<rect class="o" x="0" y="0" width="105" height="48"/><text class="t" x="5" y="11.5">GroupUsers</text>
<rect class="i" x="4" y="14" width="97" height="30"/><rect class="s" x="4.3" y="14.3" width="10" height="20.5"/>
<line class="l" x1="4" x2="101" y1="24.4" y2="24.4"/><line class="l" x1="4" x2="101" y1="34.8" y2="34.8"/>
<use href="#key" x="9" y="18"/><use href="#key" x="9" y="28.4"/>
<text class="r" x="18" y="21.6">Group_Id</text><text class="r" x="18" y="32">User_Id</text>
</g>
<!-- Groups 422,1476 h91 -->
<g transform="translate(422,1476)">
<rect class="o" x="0" y="0" width="105" height="91"/><text class="t" x="5" y="11.5">Groups</text>
<rect class="i" x="4" y="14" width="97" height="73"/><rect class="s" x="4.3" y="14.3" width="10" height="62.1"/>
<line class="l" x1="4" x2="101" y1="24.4" y2="24.4"/><line class="l" x1="4" x2="101" y1="34.8" y2="34.8"/><line class="l" x1="4" x2="101" y1="45.2" y2="45.2"/><line class="l" x1="4" x2="101" y1="55.6" y2="55.6"/><line class="l" x1="4" x2="101" y1="66" y2="66"/><line class="l" x1="4" x2="101" y1="76.4" y2="76.4"/>
<use href="#key" x="9" y="18"/>
<text class="r" x="18" y="21.6">Id</text><text class="r" x="18" y="32">Alias</text><text class="r" x="18" y="42.4">[Key]</text><text class="r" x="18" y="52.8">Modified</text><text class="r" x="18" y="63.2">Description_Id</text><text class="r" x="18" y="73.6">Parent_Id</text>
</g>
</svg>
</body></html>
